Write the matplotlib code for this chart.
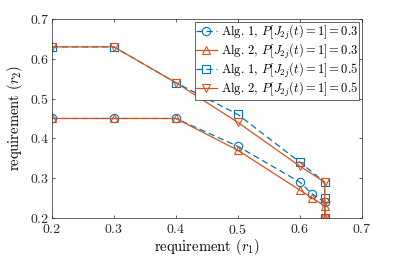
"""Requirement region r1 vs r2 for the two algorithms."""

import matplotlib
matplotlib.use("Agg")
import matplotlib.pyplot as plt

plt.rcParams["font.family"] = "serif"
plt.rcParams["font.serif"] = ["cmr10", "DejaVu Serif"]
plt.rcParams["mathtext.fontset"] = "cm"
plt.rcParams["axes.formatter.use_mathtext"] = True

# data
r1 = [0.2, 0.3, 0.4, 0.5, 0.6, 0.62, 0.64, 0.64]
alg1_p03 = [0.45, 0.45, 0.45, 0.38, 0.29, 0.26, 0.24, 0.20]
alg2_p03 = [0.45, 0.45, 0.45, 0.37, 0.27, 0.25, 0.23, 0.20]

r1_b = [0.2, 0.3, 0.4, 0.5, 0.6, 0.64, 0.64, 0.64]
alg1_p05 = [0.63, 0.63, 0.54, 0.46, 0.34, 0.29, 0.25, 0.20]
alg2_p05 = [0.63, 0.63, 0.54, 0.44, 0.33, 0.29, 0.24, 0.20]

labels = [
    r"Alg. 1, $P[J_{2j}(t)=1]=0.3$",
    r"Alg. 2, $P[J_{2j}(t)=1]=0.3$",
    r"Alg. 1, $P[J_{2j}(t)=1]=0.5$",
    r"Alg. 2, $P[J_{2j}(t)=1]=0.5$",
]

blue = "#0072BD"
orange = "#D95319"

fig = plt.figure(figsize=(3.99, 2.57), dpi=100)
ax = fig.add_axes([0.130, 0.152, 0.777, 0.774])

kw = dict(lw=0.9, ms=6, mfc="none", mew=0.8)
dash = dict(dashes=(5, 3))
ax.plot(r1, alg1_p03, "--o", color=blue, label=labels[0], **dash, **kw)
ax.plot(r1, alg2_p03, "-^", color=orange, label=labels[1], **kw)
ax.plot(r1_b, alg1_p05, "--s", color=blue, label=labels[2], **dash, **kw)
ax.plot(r1_b, alg2_p05, "-v", color=orange, label=labels[3], **kw)

ax.set_xlim(0.2, 0.7)
ax.set_ylim(0.2, 0.7)
ax.set_xticks([0.2, 0.3, 0.4, 0.5, 0.6, 0.7])
ax.set_yticks([0.2, 0.3, 0.4, 0.5, 0.6, 0.7])
ax.tick_params(direction="in", top=True, right=True, labelsize=10,
               colors="#262626", length=2.5, width=0.5, pad=2)
ax.tick_params(axis="x", pad=4)
for s in ax.spines.values():
    s.set_color("#262626")
    s.set_linewidth(0.5)

ax.set_xlabel(r"requirement $(r_1)$", fontsize=10.5, labelpad=0)
ax.set_ylabel(r"requirement $(r_2)$", fontsize=10.5, labelpad=3)

leg = ax.legend(loc="upper right", fontsize=9, handlelength=1.7,
                handletextpad=0.3, borderpad=0.1, labelspacing=0.0,
                fancybox=False, edgecolor="#262626", framealpha=1,
                borderaxespad=0.2)
leg.get_frame().set_linewidth(0.5)

fig.savefig("out.png", dpi=100)
